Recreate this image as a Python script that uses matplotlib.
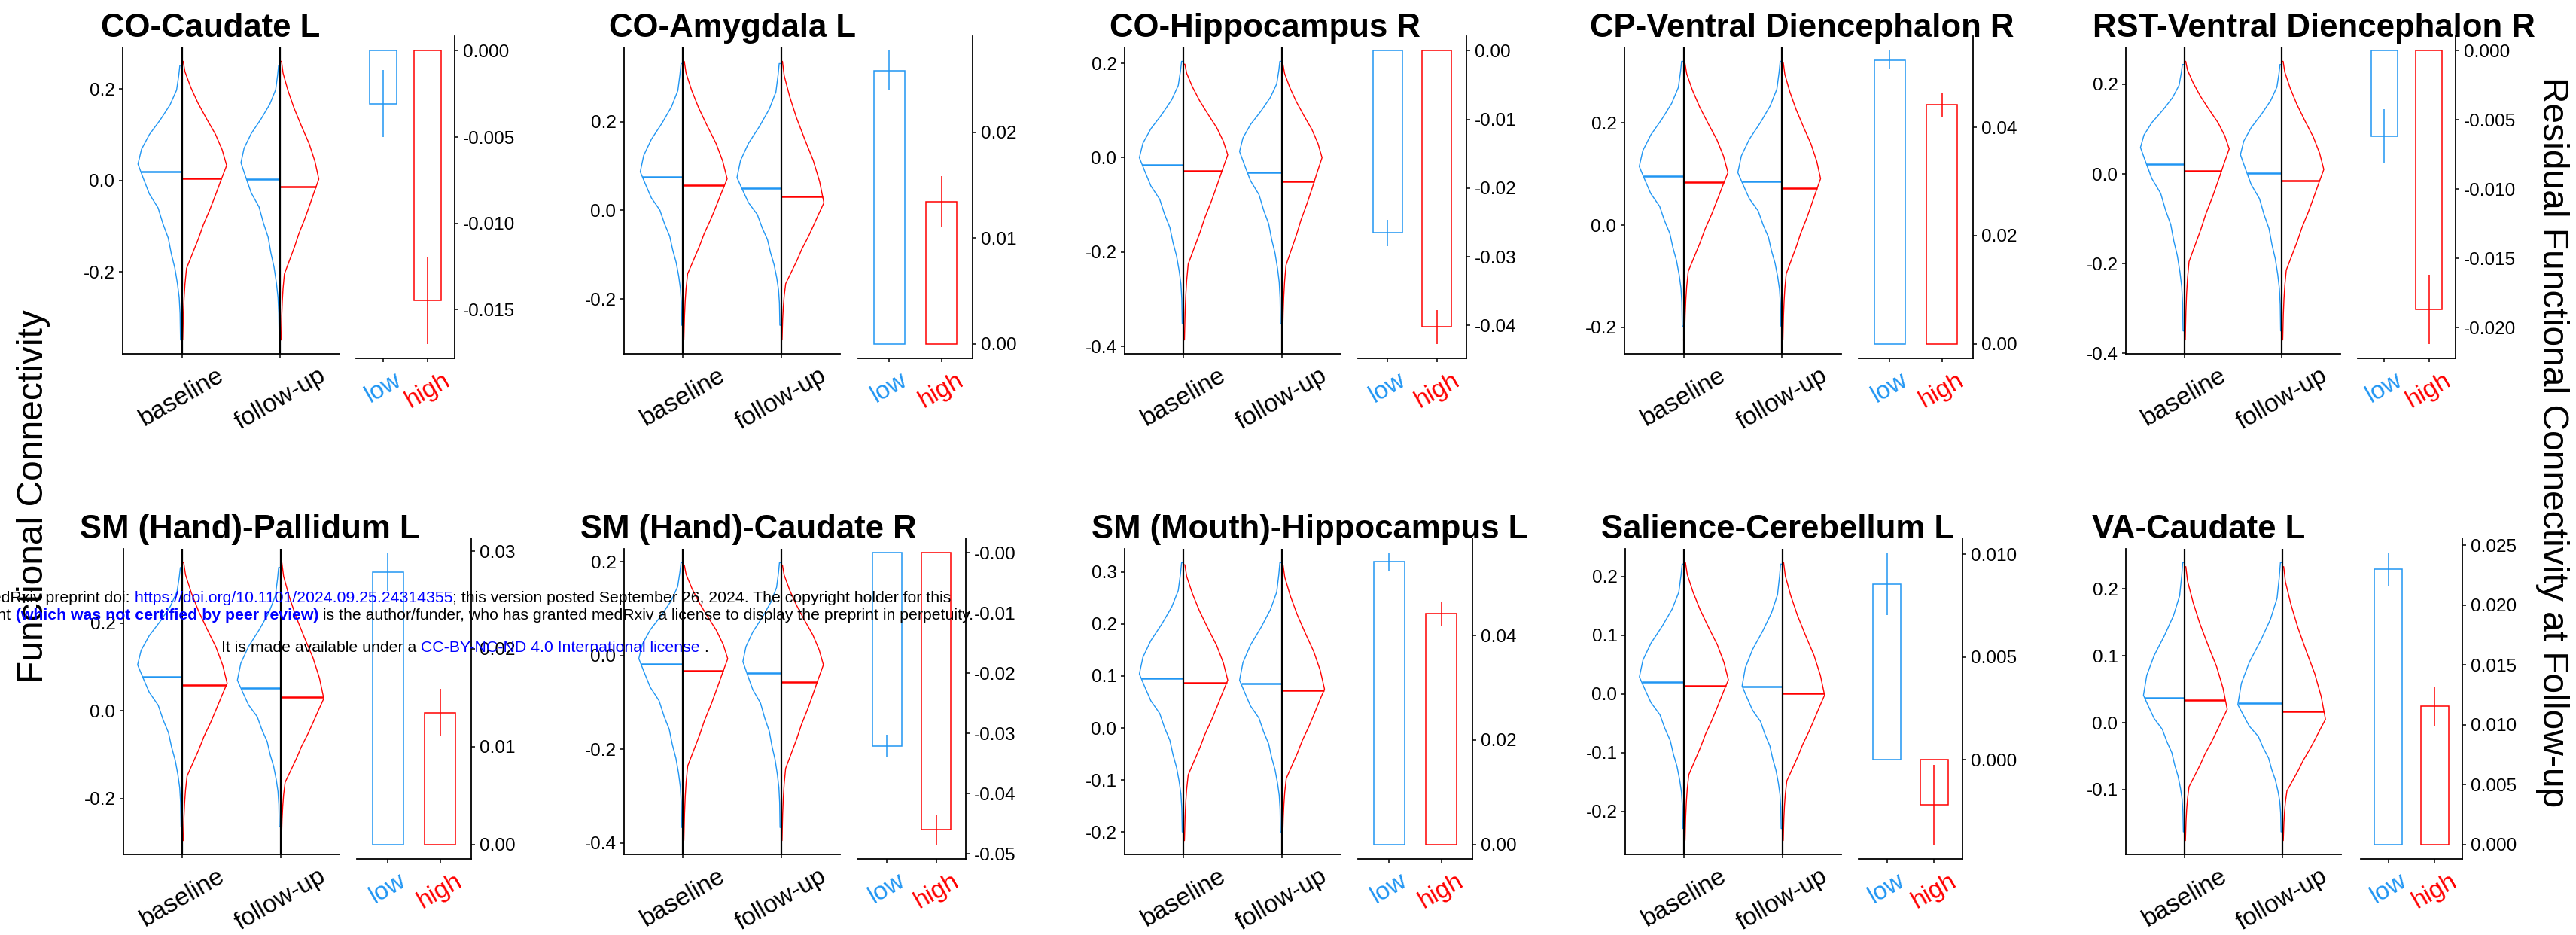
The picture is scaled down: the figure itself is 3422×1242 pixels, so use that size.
import numpy as np
import matplotlib
matplotlib.use('Agg')
import matplotlib.pyplot as plt
from matplotlib.ticker import MultipleLocator, FormatStrFormatter

plt.rcParams['font.family'] = ['Liberation Sans', 'DejaVu Sans']
plt.rcParams['axes.unicode_minus'] = False

W, H = 3423, 1242
BLUE = '#2196F3'
RED = '#FF0000'

titles = ['CO-Caudate L', 'CO-Amygdala L', 'CO-Hippocampus R',
          'CP-Ventral Diencephalon R', 'RST-Ventral Diencephalon R',
          'SM (Hand)-Pallidum L', 'SM (Hand)-Caudate R',
          'SM (Mouth)-Hippocampus L', 'Salience-Cerebellum L', 'VA-Caudate L']
timepoints = ['baseline', 'follow-up']
groups = ['low', 'high']

# violins, columns: low-baseline, high-baseline, low-follow-up, high-follow-up
vio_top = [[0.252, 0.261, 0.252, 0.261],
           [0.331, 0.336, 0.331, 0.336],
           [0.204, 0.198, 0.204, 0.198],
           [0.321, 0.318, 0.321, 0.318],
           [0.244, 0.251, 0.244, 0.251],
           [0.327, 0.338, 0.327, 0.338],
           [0.198, 0.193, 0.198, 0.193],
           [0.318, 0.314, 0.318, 0.314],
           [0.221, 0.2234, 0.221, 0.2234],
           [0.239, 0.233, 0.239, 0.233]]
vio_bot = [[-0.349, -0.349, -0.349, -0.349],
           [-0.259, -0.292, -0.259, -0.292],
           [-0.352, -0.386, -0.352, -0.386],
           [-0.198, -0.225, -0.198, -0.225],
           [-0.350, -0.370, -0.350, -0.370],
           [-0.264, -0.296, -0.264, -0.296],
           [-0.367, -0.395, -0.367, -0.395],
           [-0.200, -0.2165, -0.200, -0.2165],
           [-0.229, -0.2495, -0.229, -0.2495],
           [-0.163, -0.176, -0.163, -0.176]]
vio_peak = [[0.036, 0.033, 0.039, 0.003],
            [0.087, 0.071, 0.074, 0.017],
            [0.000, 0.006, 0.013, 0.000],
            [0.115, 0.103, 0.103, 0.091],
            [0.059, 0.056, 0.043, 0.010],
            [0.105, 0.063, 0.070, 0.028],
            [-0.0066, -0.007, -0.013, -0.020],
            [0.104, 0.092, 0.092, 0.075],
            [0.029, 0.024, 0.0135, -0.002],
            [0.041, 0.020, 0.027, 0.005]]
vio_width = [[0.445, 0.455, 0.40, 0.39],
             [0.435, 0.45, 0.45, 0.435],
             [0.45, 0.45, 0.43, 0.41],
             [0.45, 0.45, 0.45, 0.39],
             [0.45, 0.46, 0.425, 0.43],
             [0.456, 0.456, 0.44, 0.44],
             [0.45, 0.456, 0.39, 0.43],
             [0.45, 0.45, 0.43, 0.435],
             [0.456, 0.45, 0.41, 0.43],
             [0.42, 0.436, 0.456, 0.44]]
vio_mean = [[0.0195, 0.0046, 0.003, -0.013],
            [0.075, 0.056, 0.050, 0.031],
            [-0.0157, -0.0277, -0.031, -0.050],
            [0.096, 0.084, 0.0856, 0.073],
            [0.0218, 0.0066, 0.0013, -0.0158],
            [0.078, 0.059, 0.052, 0.032],
            [-0.0177, -0.032, -0.038, -0.057],
            [0.096, 0.087, 0.085, 0.072],
            [0.0198, 0.0135, 0.0125, 0.0005],
            [0.0374, 0.0342, 0.0288, 0.0169]]

# outline shape: share of the max width, going from the
# peak up to the max and from the peak down to the min
shape_up_pos = [0, 0.15, 0.30, 0.45, 0.60, 0.75, 0.90, 1.0]
shape_up_low = [1.0, 0.92, 0.74, 0.49, 0.27, 0.12, 0.07, 0.045]
shape_up_high = [1.0, 0.90, 0.75, 0.55, 0.36, 0.20, 0.07, 0.03]
shape_dn_pos = [0, 0.08, 0.17, 0.25, 0.34, 0.42, 0.51, 0.59, 0.68, 0.76, 0.85, 1.0]
shape_dn_low = [1.0, 0.88, 0.74, 0.54, 0.43, 0.31, 0.24, 0.16, 0.10, 0.06, 0.04, 0.03]
shape_dn_high = [1.0, 0.88, 0.75, 0.63, 0.48, 0.37, 0.23, 0.105, 0.07, 0.05, 0.035, 0.02]

# residual FC at follow-up (bar = mean, whisker = +/- error)
bar_low = [-0.00307, 0.02586, -0.02652, 0.05243, -0.00619,
           0.02787, -0.03204, 0.0541, 0.00855, 0.0230]
bar_low_err = [0.00195, 0.00186, 0.0019, 0.0017, 0.00195,
               0.00196, 0.0019, 0.0017, 0.00152, 0.00136]
bar_high = [-0.01448, 0.01344, -0.04022, 0.04418, -0.01867,
            0.01348, -0.04592, 0.04411, -0.00219, 0.01153]
bar_high_err = [0.0025, 0.0024, 0.00243, 0.00222, 0.0025,
                0.00243, 0.00248, 0.00226, 0.00194, 0.00168]

vio_tick_step = [0.2, 0.2, 0.2, 0.2, 0.2, 0.2, 0.2, 0.1, 0.1, 0.1]
bar_tick_step = [0.005, 0.01, 0.01, 0.02, 0.005, 0.01, 0.01, 0.02, 0.005, 0.005]
bar_tick_dec = [3, 2, 2, 2, 3, 2, 2, 2, 3, 3]

# layout in pixels
vio_x = [(163, 451), (829, 1116), (1494, 1781), (2158, 2446), (2824, 3109),
         (164, 451), (829, 1116), (1494, 1781), (2159, 2446), (2824, 3110)]
bar_x = [(473, 604), (1140, 1292), (1804, 1948), (2469, 2621), (3132, 3262),
         (474, 626), (1139, 1283), (1804, 1956), (2469, 2607), (3136, 3271)]
title_x = [134, 809, 1474, 2112, 2780, 106, 771, 1450, 2127, 2779]
vio_y = [(63, 470), (729, 1135)]
bar_y = [(48, 476), (715, 1141)]
title_y = [49, 715]

TICK_LEN = 3.6
fig = plt.figure(figsize=(W / 100, H / 100), dpi=100)


def px_axes(x0, x1, y0, y1):
    return fig.add_axes([x0 / W, 1 - y1 / H, (x1 - x0) / W, (y1 - y0) / H])


for p in range(10):
    row = p // 5
    ax = px_axes(vio_x[p][0], vio_x[p][1], vio_y[row][0], vio_y[row][1])
    for k in range(4):
        c = k // 2 + 1
        grp = k % 2
        top, bot = vio_top[p][k], vio_bot[p][k]
        pk, wm, mn = vio_peak[p][k], vio_width[p][k], vio_mean[p][k]
        if grp == 0:
            up_f, dn_f, side, col = shape_up_low, shape_dn_low, -1, BLUE
        else:
            up_f, dn_f, side, col = shape_up_high, shape_dn_high, 1, RED
        ys = np.concatenate([pk - np.array(shape_dn_pos[::-1]) * (pk - bot),
                             pk + np.array(shape_up_pos[1:]) * (top - pk)])
        ws = np.concatenate([np.array(dn_f[::-1]), np.array(up_f[1:])]) * wm
        ax.plot(np.concatenate([[c], c + side * ws, [c]]),
                np.concatenate([[bot], ys, [top]]), color=col, lw=1.0)
        wmean = np.interp(mn, ys, ws)
        ax.plot([c, c + side * wmean], [mn, mn], color=col, lw=1.8,
                solid_capstyle='butt')
    for c in (1, 2):
        ax.axvline(c, color='black', lw=1.6, zorder=3)
    lo, hi = min(vio_bot[p]), max(vio_top[p])
    pad = 0.05 * (hi - lo)
    ax.set_ylim(lo - pad, hi + pad)
    ax.set_xlim(0.4, 2.6)
    ax.yaxis.set_major_locator(MultipleLocator(vio_tick_step[p]))
    ax.yaxis.set_major_formatter(FormatStrFormatter('%.1f'))
    ax.set_xticks([1, 2], timepoints)
    ax.spines[['top', 'right']].set_visible(False)
    for s in ('left', 'bottom'):
        ax.spines[s].set_linewidth(1.3)
    ax.tick_params(axis='y', length=TICK_LEN, width=1.1, labelsize=17.5, pad=4)
    ax.tick_params(axis='x', length=TICK_LEN, width=1.1, labelsize=24,
                   pad=6, rotation=30)
    ax.patch.set_alpha(0)

    bx = px_axes(bar_x[p][0], bar_x[p][1], bar_y[row][0], bar_y[row][1])
    vals = np.array([bar_low[p], bar_high[p]])
    errs = np.array([bar_low_err[p], bar_high_err[p]])
    bx.bar([1, 2], vals, width=0.6, fill=False, edgecolor=[BLUE, RED], lw=1.1)
    bx.vlines([1, 2], vals - errs, vals + errs, colors=[BLUE, RED], lw=1.1)
    lo = min(0, (vals - errs).min())
    hi = max(0, (vals + errs).max())
    pad = 0.05 * (hi - lo)
    bx.set_ylim(lo - pad, hi + pad)
    bx.set_xlim(0.4, 2.6)
    bx.yaxis.tick_right()
    bx.yaxis.set_major_locator(MultipleLocator(bar_tick_step[p]))
    bx.yaxis.set_major_formatter(FormatStrFormatter('%%.%df' % bar_tick_dec[p]))
    bx.set_xticks([1, 2], groups)
    for lab, col in zip(bx.get_xticklabels(), [BLUE, RED]):
        lab.set_color(col)
    bx.spines[['top', 'left']].set_visible(False)
    for s in ('right', 'bottom'):
        bx.spines[s].set_linewidth(1.3)
    bx.tick_params(axis='y', length=TICK_LEN, width=1.1, labelsize=17.5, pad=4)
    bx.tick_params(axis='x', length=TICK_LEN, width=1.1, labelsize=24,
                   pad=6, rotation=30)
    bx.patch.set_alpha(0)

    fig.text(title_x[p] / W, 1 - title_y[row] / H, titles[p], fontsize=31.5,
             fontweight='bold', ha='left', va='baseline')

fig.text(45 / W, 1 - 659 / H, 'Functional Connectivity', rotation=90,
         fontsize=34.5, ha='center', va='center')
fig.text(3391 / W, 1 - 587 / H, 'Residual Functional Connectivity at Follow-up',
         rotation=-90, fontsize=34.5, ha='center', va='center')

# medRxiv stamp lying over the lower left panels
stamp = [
    [('medRxiv preprint doi:', 'black', 'normal'),
     (' https://doi.org/10.1101/2024.09.25.24314355', 'blue', 'normal'),
     ('; this version posted September 26, 2024. The copyright holder for this', 'black', 'normal')],
    [('preprint', 'black', 'normal'),
     (' (which was not certified by peer review)', 'blue', 'bold'),
     (' is the author/funder, who has granted medRxiv a license to display the preprint in perpetuity.', 'black', 'normal')],
    [('It is made available under a', 'black', 'normal'),
     (' CC-BY-NC-ND 4.0 International license', 'blue', 'normal'),
     (' .', 'black', 'normal')],
]
stamp_y = [800, 823, 866]
renderer = fig.canvas.get_renderer()
for line, yb in zip(stamp, stamp_y):
    pieces = []
    for s, col, wt in line:
        t = fig.text(0, 1 - yb / H, s, color=col, fontweight=wt, fontsize=15.3,
                     ha='left', va='baseline')
        pieces.append(t)
    widths = [t.get_window_extent(renderer).width for t in pieces]
    x = 618 - sum(widths) / 2
    for t, w in zip(pieces, widths):
        t.set_x(x / W)
        x += w

fig.savefig('out.png', dpi=100)
